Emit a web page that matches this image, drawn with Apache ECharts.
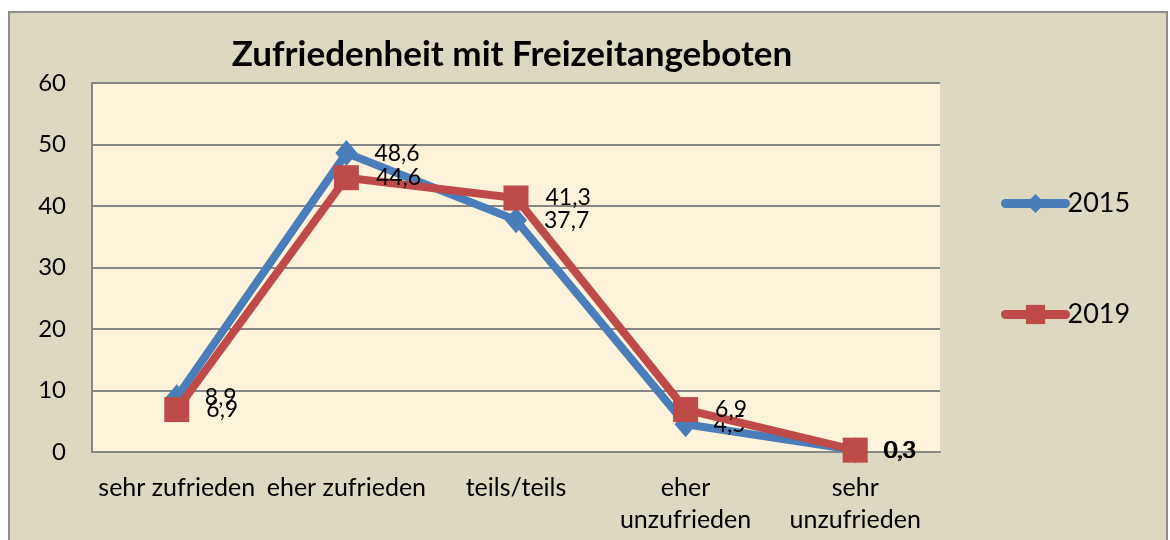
<!DOCTYPE html>
<html>
<head>
<meta charset="utf-8">
<style>
  html, body { margin: 0; padding: 0; background: #ffffff; }
  #chart { width: 1170px; height: 540px; }
</style>
<script src="https://cdn.jsdelivr.net/npm/echarts@6/dist/echarts.min.js"></script>
</head>
<body>
<div id="chart"></div>
<script>
// Zufriedenheit mit Freizeitangeboten – Anteile in Prozent
const categories = ['sehr zufrieden', 'eher zufrieden', 'teils/teils', 'eher unzufrieden', 'sehr unzufrieden'];
const values2015 = [8.9, 48.6, 37.7, 4.5, 0.3];
const values2019 = [6.9, 44.6, 41.3, 6.9, 0.3];
const yTicks = [0, 10, 20, 30, 40, 50, 60];

const FONT = 'Lato, "Open Sans", sans-serif';
const comma = v => String(v).replace('.', ',');

const chart = echarts.init(document.getElementById('chart'), null, { renderer: 'canvas' });

const labelStyle = {
  show: true,
  position: 'right',
  distance: 17,
  color: '#000',
  fontFamily: FONT,
  fontSize: 23,
  formatter: p => comma(p.value)
};

chart.setOption({
  backgroundColor: '#ffffff',
  animation: false,
  graphic: [{
    type: 'rect',
    z: -100,
    silent: true,
    shape: { x: 9, y: 12, width: 1158, height: 540 },
    style: { fill: '#DDD8C2', stroke: '#8E8E8E', lineWidth: 2 }
  }],
  title: {
    text: 'Zufriedenheit mit Freizeitangeboten',
    left: 512,
    top: 37,
    textAlign: 'center',
    padding: 0,
    textStyle: { fontFamily: FONT, fontSize: 35, fontWeight: 'bold', color: '#000' }
  },
  legend: {
    orient: 'vertical',
    left: 996,
    top: 185,
    itemWidth: 60,
    itemHeight: 24,
    itemGap: 84,
    lineStyle: { width: 9, cap: 'round' },
    textStyle: { fontFamily: FONT, fontSize: 27, color: '#000', padding: [0, 0, 0, -3] },
    data: ['2015', '2019']
  },
  grid: {
    left: 92, right: 230, top: 83, bottom: 88,
    show: true,
    backgroundColor: '#FDF2DA',
    borderWidth: 0
  },
  xAxis: {
    type: 'category',
    data: categories,
    boundaryGap: true,
    axisLine: { show: true, lineStyle: { color: '#868686', width: 2 } },
    axisTick: { show: false },
    axisLabel: {
      interval: 0,
      hideOverlap: false,
      margin: 20,
      color: '#000',
      fontFamily: FONT,
      fontSize: 25,
      lineHeight: 32,
      formatter: v => v.replace(' unzufrieden', '\nunzufrieden')
    }
  },
  yAxis: {
    type: 'value',
    min: yTicks[0],
    max: yTicks[yTicks.length - 1],
    interval: 10,
    axisLine: { show: true, lineStyle: { color: '#868686', width: 2 } },
    axisTick: { show: false },
    splitLine: { show: true, lineStyle: { color: '#868686', width: 2 } },
    axisLabel: { margin: 26, color: '#000', fontFamily: FONT, fontSize: 24 }
  },
  series: [
    {
      name: '2015',
      type: 'line',
      data: values2015,
      symbol: 'diamond',
      symbolSize: [22, 26],
      color: '#4A7EBB',
      lineStyle: { width: 8, color: '#4A7EBB', join: 'miter' },
      itemStyle: { color: '#4A7EBB' },
      label: labelStyle,
      z: 3
    },
    {
      name: '2019',
      type: 'line',
      data: values2019,
      symbol: 'rect',
      symbolSize: 25,
      color: '#BE4B48',
      lineStyle: { width: 8, color: '#BE4B48', join: 'miter' },
      itemStyle: { color: '#BE4B48' },
      label: labelStyle,
      z: 4
    }
  ]
});
</script>
</body>
</html>
